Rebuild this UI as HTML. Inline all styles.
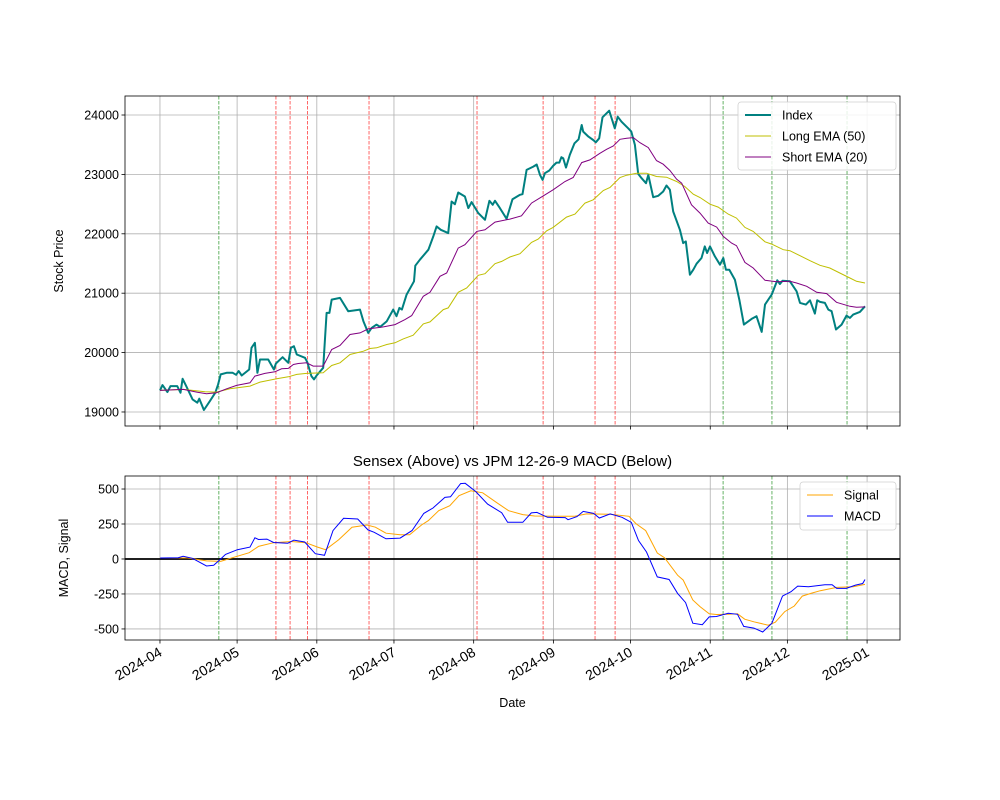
<!DOCTYPE html>
<html><head><meta charset="utf-8"><style>
html,body{margin:0;padding:0;background:#fff;}
svg{display:block;font-family:"Liberation Sans","DejaVu Sans",sans-serif;}
</style></head><body>
<svg id="chart" width="1000" height="800" viewBox="0 0 1000 800" xmlns="http://www.w3.org/2000/svg">
<rect width="1000" height="800" fill="#fff"/>
<g id="topPanel"></g>
<g id="botPanel"></g>
</svg>
<script>
// ---- data (day offsets from 2024-04-01) ----
const indexDays = [0,1.0,2.9,4.1,6.7,8.0,8.8,10.1,12.7,14.5,15.3,17.1,19.4,21.5,22.6,23.6,25.9,28.3,29.6,30.6,31.8,34.7,35.6,36.9,37.9,38.9,42.1,44.3,45.1,47.7,49.9,50.9,52.1,53.2,56.4,57.3,58.9,59.9,60.9,63.5,64.8,65.9,66.8,70.0,73.2,77.8,79.1,81.0,82.3,84.2,85.6,88.2,90.7,92.0,93.1,94.1,95.9,98.8,99.3,101.1,104.4,106.3,107.6,109.2,112.1,113.4,114.7,116.0,118.6,119.9,121.2,123.8,126.4,128.1,129.4,130.3,132.2,134.8,137.1,140.0,141.0,142.6,143.6,145.2,146.5,147.8,148.8,149.7,151.4,152.9,154.2,155.3,156.1,156.8,157.9,159.4,161.2,162.8,164.0,164.6,166.6,168.5,169.5,170.8,172.1,174.7,176.9,178.0,179.5,182.1,183.3,184.7,186.0,187.3,189.0,189.9,191.8,193.8,195.7,197.0,198.3,199.6,202.2,203.5,204.5,206.1,207.4,208.7,210.6,211.9,212.8,213.9,215.8,217.8,219.1,220.1,221.4,223.6,225.3,227.1,230.1,232.0,234.0,235.3,237.9,240.1,241.1,242.1,245.0,247.6,248.9,251.2,252.8,254.7,255.6,256.7,258.6,259.9,261.2,262.9,265.1,267.0,268.3,269.6,272.2,274.2];
const indexValues = [19363,19453,19335,19436,19436,19324,19559,19447,19212,19156,19223,19033,19184,19324,19464,19632,19660,19660,19626,19688,19615,19716,20080,20164,19660,19884,19884,19716,19817,19923,19828,20080,20108,19968,19912,19839,19604,19548,19615,19744,20668,20668,20892,20920,20696,20724,20528,20332,20416,20472,20433,20528,20724,20612,20752,20724,20976,21200,21463,21564,21732,21956,22124,22068,22012,22544,22499,22695,22628,22432,22533,22348,22236,22555,22488,22555,22432,22253,22583,22656,22667,23076,23098,23132,23166,22992,22908,23020,23065,23143,23199,23199,23289,23272,23115,23328,23524,23591,23832,23720,23636,23580,23541,23608,23961,24073,23776,23972,23888,23776,23720,23496,23009,22936,22852,22992,22617,22639,22712,22813,22740,22376,22068,21844,21872,21312,21396,21497,21592,21788,21676,21788,21620,21480,21592,21396,21396,21228,20892,20472,20567,20612,20349,20808,20976,21217,21155,21211,21200,21032,20836,20808,20881,20657,20881,20853,20836,20724,20696,20388,20472,20623,20584,20640,20685,20780];
const longDays = [0,9.1,17.5,22.0,27.2,35.0,38.9,45.4,49.9,53.2,57.0,63.5,66.8,70.0,73.9,79.1,81.7,84.3,88.2,91.4,94.6,98.5,102.4,105.0,110.2,112.1,116.0,119.3,123.8,126.4,130.3,132.9,136.1,140.0,144.5,147.1,150.4,152.9,158.1,161.4,165.3,168.5,172.4,175.0,178.9,181.5,185.4,189.2,193.1,197.0,200.9,204.1,207.4,210.0,213.9,217.1,221.0,224.2,227.5,230.7,235.3,237.9,242.4,245.0,248.9,252.8,256.7,260.5,264.4,268.3,270.9,274.2];
const longValues = [19363,19380,19341,19335,19391,19436,19503,19559,19593,19632,19649,19660,19783,19828,19968,20024,20069,20080,20136,20164,20231,20293,20483,20517,20724,20752,21015,21088,21301,21329,21497,21536,21609,21665,21855,21911,22051,22107,22281,22331,22516,22572,22729,22779,22947,22986,23020,23020,22964,22953,22880,22796,22667,22611,22499,22449,22331,22264,22107,22040,21866,21827,21732,21715,21631,21547,21469,21424,21340,21256,21200,21172];
const shortDays = [0,9.1,14.3,18.1,22.0,25.9,29.8,35.0,36.9,40.8,44.7,47.3,49.9,51.9,53.8,57.0,59.6,63.5,66.8,70.0,73.9,77.8,81.0,86.9,91.4,95.3,97.9,102.4,105.0,108.9,111.5,116.0,118.6,123.2,126.4,130.3,136.1,140.6,144.5,149.1,152.9,157.5,160.7,164.0,167.2,171.1,173.7,176.3,178.9,181.5,184.1,186.6,189.9,193.1,195.7,198.3,200.9,202.9,206.7,210.0,213.2,216.5,219.1,222.3,224.2,227.5,230.7,235.3,239.8,245.0,247.6,251.5,255.4,259.3,263.1,268.3,270.9,274.2];
const shortValues = [19363,19380,19335,19307,19324,19391,19447,19492,19604,19649,19677,19727,19733,19800,19817,19828,19772,19772,20052,20119,20304,20332,20399,20433,20472,20556,20623,20948,21015,21284,21340,21760,21816,22040,22068,22197,22247,22303,22516,22639,22740,22880,22947,23199,23244,23356,23423,23479,23591,23608,23619,23535,23451,23233,23171,23065,22919,22852,22488,22348,22180,22113,21956,21844,21799,21519,21424,21217,21194,21200,21172,21116,21015,20993,20847,20780,20763,20769];
const macdDays = [0.1,7.1,9.0,12.6,18.1,20.9,23.6,25.5,30.1,35.0,36.9,38.3,41.6,44.2,49.7,52.1,56.3,60.4,64.0,67.3,71.4,76.9,80.9,83.3,87.9,93.4,98.0,102.6,106.2,110.8,113.0,116.9,118.7,122.8,127.4,132.9,135.2,141.1,144.4,146.6,150.7,157.6,158.7,162.2,164.6,168.6,170.9,175.1,179.7,183.3,186.1,189.2,193.4,198.0,201.3,204.4,207.2,210.9,213.6,216.4,221.0,224.6,227.0,231.0,234.4,238.0,242.1,245.4,248.0,252.2,258.6,261.4,263.2,266.9,270.5,273.3,274.2];
const macdValues = [7,9,19,5,-50,-45,0,33,66,85,151,139,142,118,113,135,121,38,26,203,291,286,208,191,144,149,203,326,364,440,444,539,541,482,392,331,262,262,329,333,298,296,281,303,340,326,293,322,298,262,132,50,-128,-147,-246,-312,-459,-470,-414,-411,-388,-395,-482,-494,-522,-459,-265,-234,-194,-199,-184,-184,-210,-210,-187,-175,-147];
const signalDays = [0.1,10.8,18.1,23.6,28.2,34.7,38.3,44.2,51.2,56.7,61.3,64.4,69.5,74.7,80.5,83.8,87.9,93.4,97.1,101.7,104.4,108.4,112.7,116.3,120.9,125.5,131.0,135.6,141.1,145.7,154.0,161.3,165.9,175.1,182.4,185.2,188.9,193.4,196.2,201.3,203.5,207.2,210.0,213.6,216.4,221.0,224.6,227.4,231.0,236.6,239.3,243.0,246.7,249.8,253.1,256.8,263.2,269.6,274.2];
const signalValues = [7,7,-14,-17,9,45,90,116,125,116,85,66,137,227,243,227,184,173,173,243,274,345,381,452,487,473,402,345,317,307,305,305,322,319,305,251,203,43,9,-116,-151,-293,-340,-392,-397,-395,-392,-430,-449,-473,-452,-376,-336,-265,-246,-227,-203,-199,-182];
const redEventDays = [45.1,50.6,57.4,81.3,123.3,149.0,169.2,177.0];
const greenEventDays = [22.9,219.0,238.0,267.2];
const monthTickDays = [0,30,61,91,122,153,183,214,244,275];
const monthTickLabels = ["2024-04","2024-05","2024-06","2024-07","2024-08","2024-09","2024-10","2024-11","2024-12","2025-01"];
const priceTicks = [19000,20000,21000,22000,23000,24000];
const macdTicks = [-500,-250,0,250,500];

// ---- geometry ----
const L=125,R=900, T1=96,B1=426, T2=476,B2=640;
const xDom=[-13.6,287.8];
const x = d => L + (d-xDom[0])/(xDom[1]-xDom[0])*(R-L);
const yP = v => B1 - (v-18764)/(24320-18764)*(B1-T1);
const yM = v => B2 - (v-(-579))/(593-(-579))*(B2-T2);
const NS="http://www.w3.org/2000/svg";
function mk(tag, attrs, parent){const e=document.createElementNS(NS,tag);for(const k in attrs)e.setAttribute(k,attrs[k]);parent.appendChild(e);return e;}
function pathOf(ds,vs,fy){return ds.map((d,i)=>(i?'L':'M')+x(d).toFixed(1)+','+fy(vs[i]).toFixed(1)).join('');}

function panel(g,T,B,fy,ticks,tickName){
  ticks.forEach(t=>{
    const l=mk('line',{x1:L,x2:R,y1:fy(t),y2:fy(t),stroke:'#b0b0b0','stroke-width':0.8},g);
    
    
    const tk=mk('line',{x1:L-3.5,x2:L,y1:fy(t),y2:fy(t),stroke:'#000','stroke-width':0.8},g);
    
    
    const tx=mk('text',{x:L-6,y:fy(t)+4.5,'text-anchor':'end','font-size':12.5,fill:'#000'},g);
    tx.textContent=t;
    
    
  });
  monthTickDays.forEach(d=>{
    const l=mk('line',{x1:x(d),x2:x(d),y1:T,y2:B,stroke:'#b0b0b0','stroke-width':0.8},g);
    
    
    const tk=mk('line',{x1:x(d),x2:x(d),y1:B,y2:B+3.5,stroke:'#000','stroke-width':0.8},g);
    
    
  });
  redEventDays.forEach(d=>{
    const l=mk('line',{x1:x(d),x2:x(d),y1:T,y2:B,stroke:'#ff0000','stroke-opacity':0.75,'stroke-width':0.8,'stroke-dasharray':'3.5,1.5'},g);
    
    
  });
  greenEventDays.forEach(d=>{
    const l=mk('line',{x1:x(d),x2:x(d),y1:T,y2:B,stroke:'#008000','stroke-opacity':0.75,'stroke-width':0.8,'stroke-dasharray':'3.5,1.5'},g);
    
    
  });
}
const topG=document.getElementById('topPanel'), botG=document.getElementById('botPanel');
panel(topG,T1,B1,yP,priceTicks,'price-tick-label');
panel(botG,T2,B2,yM,macdTicks,'macd-tick-label');

let p;
p=mk('path',{d:pathOf(indexDays,indexValues,yP),fill:'none',stroke:'#008080','stroke-width':2,'stroke-linejoin':'round'},topG);


p=mk('path',{d:pathOf(longDays,longValues,yP),fill:'none',stroke:'#bfbf00','stroke-width':1},topG);


p=mk('path',{d:pathOf(shortDays,shortValues,yP),fill:'none',stroke:'#800080','stroke-width':1},topG);



p=mk('line',{x1:L,x2:R,y1:yM(0),y2:yM(0),stroke:'#000','stroke-width':1.8},botG);


p=mk('path',{d:pathOf(signalDays,signalValues,yM),fill:'none',stroke:'#ffa500','stroke-width':1},botG);


p=mk('path',{d:pathOf(macdDays,macdValues,yM),fill:'none',stroke:'#0000ff','stroke-width':1},botG);



// frames
p=mk('rect',{x:L,y:T1,width:R-L,height:B1-T1,fill:'none',stroke:'#000','stroke-width':0.8},topG);


p=mk('rect',{x:L,y:T2,width:R-L,height:B2-T2,fill:'none',stroke:'#000','stroke-width':0.8},botG);



// x tick labels
monthTickDays.forEach((d,i)=>{
  const t=mk('text',{x:0,y:0,'text-anchor':'end','font-size':14,transform:`translate(${x(d)+3},${B2+15}) rotate(-30)`},botG);
  t.textContent=monthTickLabels[i];
  
  
});

// titles
function txt(par,attrs,s,name){const t=mk('text',attrs,par);t.textContent=s;return t;}
txt(topG,{x:0,y:0,'text-anchor':'middle','font-size':12.5,transform:`translate(63,${(T1+B1)/2}) rotate(-90)`},'Stock Price','price-y-axis-title');
txt(botG,{x:0,y:0,'text-anchor':'middle','font-size':12.5,transform:`translate(68,${(T2+B2)/2}) rotate(-90)`},'MACD, Signal','macd-y-axis-title');
txt(botG,{x:(L+R)/2,y:466,'text-anchor':'middle','font-size':15},'Sensex (Above) vs JPM 12-26-9 MACD (Below)','chart-title');
txt(botG,{x:(L+R)/2,y:707,'text-anchor':'middle','font-size':12.5},'Date','x-axis-title');

// legends
function legend(par,lx,ly,w,h,items,name){
  const g=mk('g',{},par);
  
  
  mk('rect',{x:lx,y:ly,width:w,height:h,rx:3,fill:'#fff','fill-opacity':0.85,stroke:'#d0d0d0','stroke-width':0.8},g);
  items.forEach((it,i)=>{
    const cy=ly+13+i*21;
    const ln=mk('line',{x1:lx+7,x2:lx+33,y1:cy,y2:cy,stroke:it[1],'stroke-width':it[2]},g);
    
    
    const t=mk('text',{x:lx+44,y:cy+4.5,'font-size':12.5},g);
    t.textContent=it[0];
    
    
  });
}
legend(topG,738,102,158,68,[['Index','#008080',2],['Long EMA (50)','#bfbf00',1],['Short EMA (20)','#800080',1]],'price-legend');
legend(botG,800,482,96,48,[['Signal','#ffa500',1],['MACD','#0000ff',1]],'macd-legend');
</script>
</body></html>
